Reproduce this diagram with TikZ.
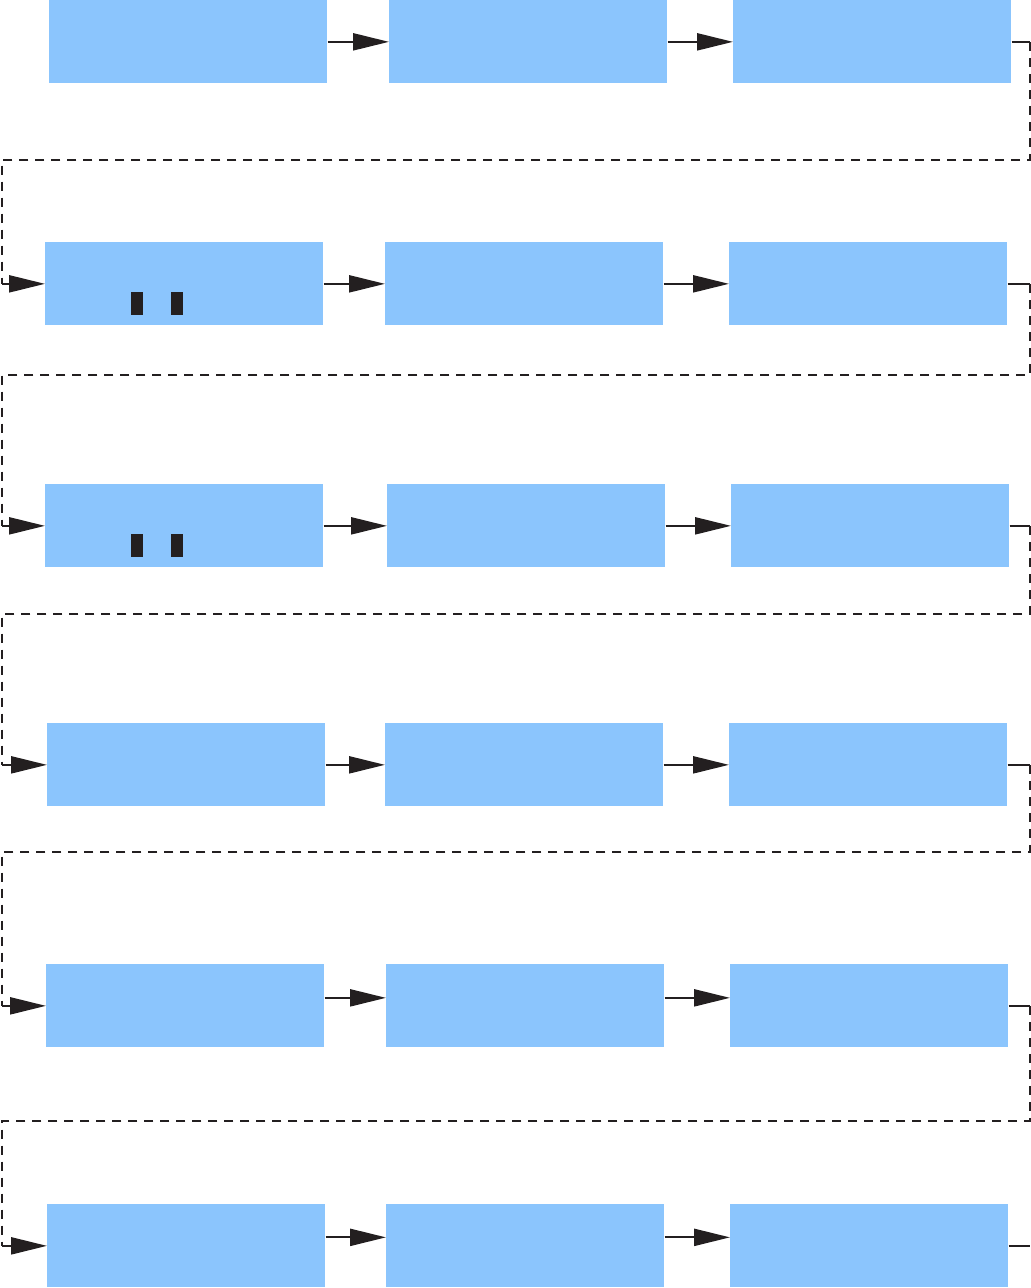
\documentclass[tikz,border=0pt]{standalone}
\usepackage{tikz}
\usetikzlibrary{arrows.meta,positioning}

\definecolor{boxblue}{RGB}{139,197,253}
\definecolor{ink}{RGB}{35,31,32}

\tikzset{
  blk/.style={fill=boxblue, minimum width=5.56cm, minimum height=1.66cm,
    inner sep=0pt, anchor=north west},
  wire/.style={draw=ink, line width=0.045cm},
  link/.style={wire, -{Triangle[length=0.72cm,width=0.34cm]}},
  back/.style={wire, line width=0.055cm, dash pattern=on 0.18cm off 0.14cm}
}

\begin{document}
\begin{tikzpicture}[x=0.02cm,y=-0.02cm]
\useasboundingbox (0,0) rectangle (1031,1288);

% Row 1
\node[blk] (b11) at (49,0) {};
\node[blk] (b12) at (389,0) {};
\node[blk] (b13) at (733,0) {};
\draw[link] (b11) -- (b12);
\draw[link] (b12) -- (b13);

% Row 2
\node[blk] (b21) at (45,242) {};
\node[blk] (b22) at (385,242) {};
\node[blk] (b23) at (729,242) {};
\draw[link] (b21) -- (b22);
\draw[link] (b22) -- (b23);
\fill[ink] (131,292) rectangle (143,315);
\fill[ink] (171,292) rectangle (183,315);

% Row 3
\node[blk] (b31) at (45,484) {};
\node[blk] (b32) at (387,484) {};
\node[blk] (b33) at (731,484) {};
\draw[link] (b31) -- (b32);
\draw[link] (b32) -- (b33);
\fill[ink] (131,534) rectangle (143,557);
\fill[ink] (171,534) rectangle (183,557);

% Row 4
\node[blk] (b41) at (47,723) {};
\node[blk] (b42) at (385,723) {};
\node[blk] (b43) at (729,723) {};
\draw[link] (b41) -- (b42);
\draw[link] (b42) -- (b43);

% Row 5
\node[blk] (b51) at (46,964) {};
\node[blk] (b52) at (386,964) {};
\node[blk] (b53) at (730,964) {};
\draw[link] ([yshift=0.16cm]b51.east) -- ([yshift=0.16cm]b52.west);
\draw[link] ([yshift=0.16cm]b52.east) -- ([yshift=0.16cm]b53.west);

% Row 6
\node[blk] (b61) at (47,1204) {};
\node[blk] (b62) at (386,1204) {};
\node[blk] (b63) at (730,1204) {};
\draw[link] ([yshift=0.17cm]b61.east) -- ([yshift=0.17cm]b62.west);
\draw[link] ([yshift=0.17cm]b62.east) -- ([yshift=0.17cm]b63.west);
\coordinate (end) at (1030,1247);
\draw[wire] (b63.east) -- (b63.east -| end);

% Return lines to the next row
\foreach \r/\n/\y in {1/2/160, 2/3/375, 3/4/614, 4/5/852, 5/6/1121} {
  \coordinate (e\r) at (1030,\y);
  \coordinate (w\r) at (2,\y);
  \draw[wire] (b\r3.east) -- (b\r3.east -| e\r);
  \draw[back] (b\r3.east -| e\r) -- (e\r) -- (w\r) -- (w\r |- b\n1.west);
  \draw[link] (w\r |- b\n1.west) -- (b\n1.west);
}
\end{tikzpicture}
\end{document}
